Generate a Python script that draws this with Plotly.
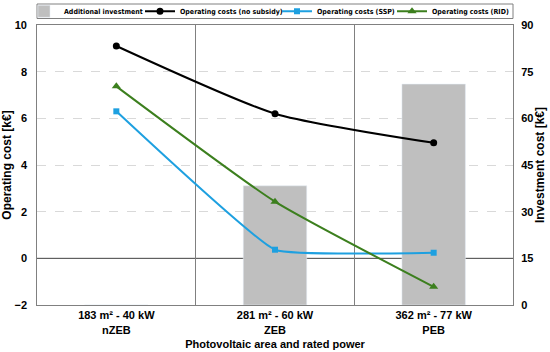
import plotly.graph_objects as go

categories = ["183 m² - 40 kW<br>nZEB", "281 m² - 60 kW<br>ZEB", "362 m² - 77 kW<br>PEB"]
investment = [0, 38.3, 71.0]
cost_no_subsidy = [9.1, 6.2, 4.95]
cost_ssp = [6.3, 0.37, 0.24]
cost_rid = [7.37, 2.43, -1.22]
op_ticks = [-2, 0, 2, 4, 6, 8, 10]
inv_ticks = [0, 15, 30, 45, 60, 75, 90]
inv_grid = [30, 45, 60, 75]

FONT = "Liberation Sans"
LFONT = "Liberation Sans Narrow, DejaVu Sans Condensed, Liberation Sans"
fig = go.Figure()
fig.add_trace(go.Bar(x=categories, y=investment, name="Additional investment",
                     marker_color="#BFBFBF", width=0.4, yaxis="y", legend="legend"))
fig.add_trace(go.Scatter(x=categories, y=cost_no_subsidy, name="Operating costs (no subsidy)", yaxis="y2",
                         mode="lines+markers", line=dict(color="black", width=2, shape="spline", smoothing=0.6),
                         marker=dict(symbol="circle", size=7, color="black"), legend="legend2"))
fig.add_trace(go.Scatter(x=categories, y=cost_ssp, name="Operating costs (SSP)", yaxis="y2",
                         mode="lines+markers", line=dict(color="#1EA0E0", width=2, shape="spline", smoothing=0.3),
                         marker=dict(symbol="square", size=6, color="#1EA0E0"), legend="legend3"))
fig.add_trace(go.Scatter(x=categories, y=cost_rid, name="Operating costs (RID)", yaxis="y2",
                         mode="lines+markers", line=dict(color="#3C7F1E", width=2, shape="spline", smoothing=0.5),
                         marker=dict(symbol="triangle-up", size=8, color="#3C7F1E"), legend="legend4"))

# zero reference line on operating-cost axis, beneath the bars
fig.add_shape(type="line", xref="paper", x0=0, x1=1, yref="y2", y0=0, y1=0,
              line=dict(color="#404040", width=1), layer="below")

W, L, PH, T = 476.0, 37.0, 280.0, 25.0
def lx(px):
    return (px - L) / W
def ly(py):
    return 1 + (T - py) / PH

# legend frame
fig.add_shape(type="rect", xref="paper", yref="paper", x0=0, x1=1, y0=ly(18.5), y1=ly(4),
              line=dict(color="#808080", width=1), fillcolor="rgba(0,0,0,0)", layer="above")

legend_common = dict(orientation="h", xanchor="left", y=ly(11.3), yanchor="middle",
                     borderwidth=0, bgcolor="rgba(0,0,0,0)",
                     font=dict(family=LFONT, size=7, color="black", weight="bold"),
                     itemwidth=30)
fig.update_layout(
    width=550, height=352,
    margin=dict(l=37, r=37, t=25, b=47, autoexpand=False),
    plot_bgcolor="white", paper_bgcolor="white",
    font=dict(family=FONT, size=11, color="black"),
    showlegend=True,
    legend=dict(x=lx(24), **legend_common),
    legend2=dict(x=lx(140), **legend_common),
    legend3=dict(x=lx(277), **legend_common),
    legend4=dict(x=lx(392), **legend_common),
    xaxis=dict(type="category", tickson="boundaries", showgrid=True, gridcolor="#808080",
               gridwidth=1, showline=True, linecolor="#808080", mirror=True, ticks="",
               tickfont=dict(family=FONT, size=11, weight="bold"),
               title=dict(text="Photovoltaic area and rated power", standoff=5,
                          font=dict(family=FONT, size=11, weight="bold")),
               range=[-0.5, 2.5]),
    yaxis=dict(range=[0, 90], tickvals=inv_ticks, side="right", showgrid=False, zeroline=False,
               minor=dict(tickvals=inv_grid, showgrid=True, gridcolor="#D9D9D9", griddash="dash",
                          gridwidth=1, ticks=""),
               showline=True, linecolor="#808080", mirror=True, ticks="", automargin=False,
               ticklabelstandoff=5,
               tickfont=dict(family=FONT, size=11, weight="bold"),
               title=dict(text="Investment cost [k€]", standoff=2,
                          font=dict(family=FONT, size=12, weight="bold"))),
    yaxis2=dict(range=[-2, 10], tickvals=op_ticks, overlaying="y", side="left",
                showgrid=False, zeroline=False, ticks="", automargin=False,
                ticklabelstandoff=9,
                tickfont=dict(family=FONT, size=11, weight="bold"),
                title=dict(text="Operating cost [k€]", standoff=1,
                           font=dict(family=FONT, size=12, weight="bold"))),
)
fig.write_html("out.html", config={"displayModeBar": False},
               post_script="document.body.style.margin='0';")
